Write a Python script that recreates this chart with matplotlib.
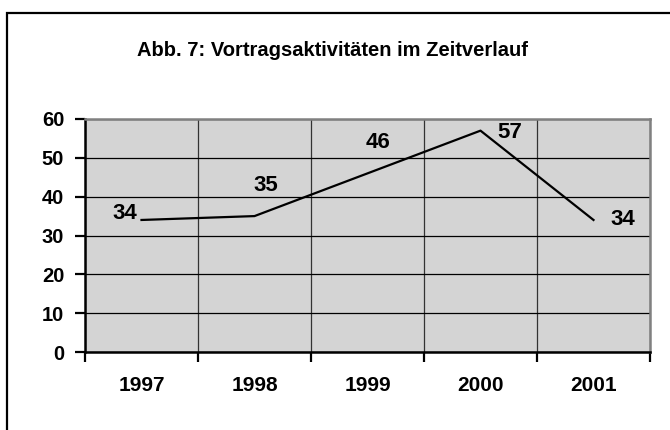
import matplotlib.pyplot as plt
from matplotlib.patches import Rectangle

# data
years = ['1997', '1998', '1999', '2000', '2001']
talks = [34, 35, 46, 57, 34]
# label offsets in pixels (dx, dy) relative to each point
label_offsets = [(-17, 6), (11, 31), (11, 31), (29, -2), (29, 0)]

plt.rcParams['font.family'] = ['Liberation Sans', 'DejaVu Sans']
plt.rcParams['font.weight'] = 'bold'

fig = plt.figure(figsize=(6.7, 4.3), dpi=100)
fig.patch.set_facecolor('white')

# outer chart frame (only left and top visible, cut by the image edge)
fig.patches.append(Rectangle((7 / 670, -0.05), 1.1, 1 - 13 / 430 + 0.05,
                             transform=fig.transFigure, fill=False,
                             edgecolor='black', linewidth=1.6, zorder=0))

ax = fig.add_axes([85 / 670, 78 / 430, 565 / 670, 233 / 430])
ax.set_facecolor('#d4d4d4')

x = list(range(len(years)))
ax.plot(x, talks, color='black', linewidth=1.6, zorder=3)

for xi, v, (dx, dy) in zip(x, talks, label_offsets):
    ax.annotate(str(v), (xi, v), xytext=(dx, dy), textcoords='offset pixels',
                ha='center', va='center', fontsize=16, fontweight='bold',
                zorder=4)

ax.set_xlim(-0.5, len(years) - 0.5)
ax.set_ylim(0, 60)
ax.set_yticks(range(0, 61, 10))

# category boundaries as major ticks, labels at centers as minor ticks
ax.set_xticks([i - 0.5 for i in range(len(years) + 1)])
ax.set_xticklabels([])
ax.set_xticks(x, minor=True)
ax.set_xticklabels(years, minor=True)
ax.tick_params(axis='x', which='major', direction='out', length=7, width=1.6)
ax.tick_params(axis='x', which='minor', length=0, pad=17, labelsize=15)
ax.tick_params(axis='y', direction='out', length=7, width=1.6, pad=8,
               labelsize=14.5)

ax.grid(True, axis='y', color='black', linewidth=0.9, zorder=1)
ax.grid(True, axis='x', which='major', color='#333333', linewidth=0.9, zorder=1)
ax.set_axisbelow(True)

for s in ['left', 'bottom']:
    ax.spines[s].set_color('black')
    ax.spines[s].set_linewidth(1.8)
for s in ['top', 'right']:
    ax.spines[s].set_color('#808080')
    ax.spines[s].set_linewidth(1.8)

fig.text(0.497, 1 - 50 / 430, 'Abb. 7: Vortragsaktivitäten im Zeitverlauf',
         ha='center', va='center', fontsize=14.5, fontweight='bold')

fig.savefig('out.png', dpi=100)
